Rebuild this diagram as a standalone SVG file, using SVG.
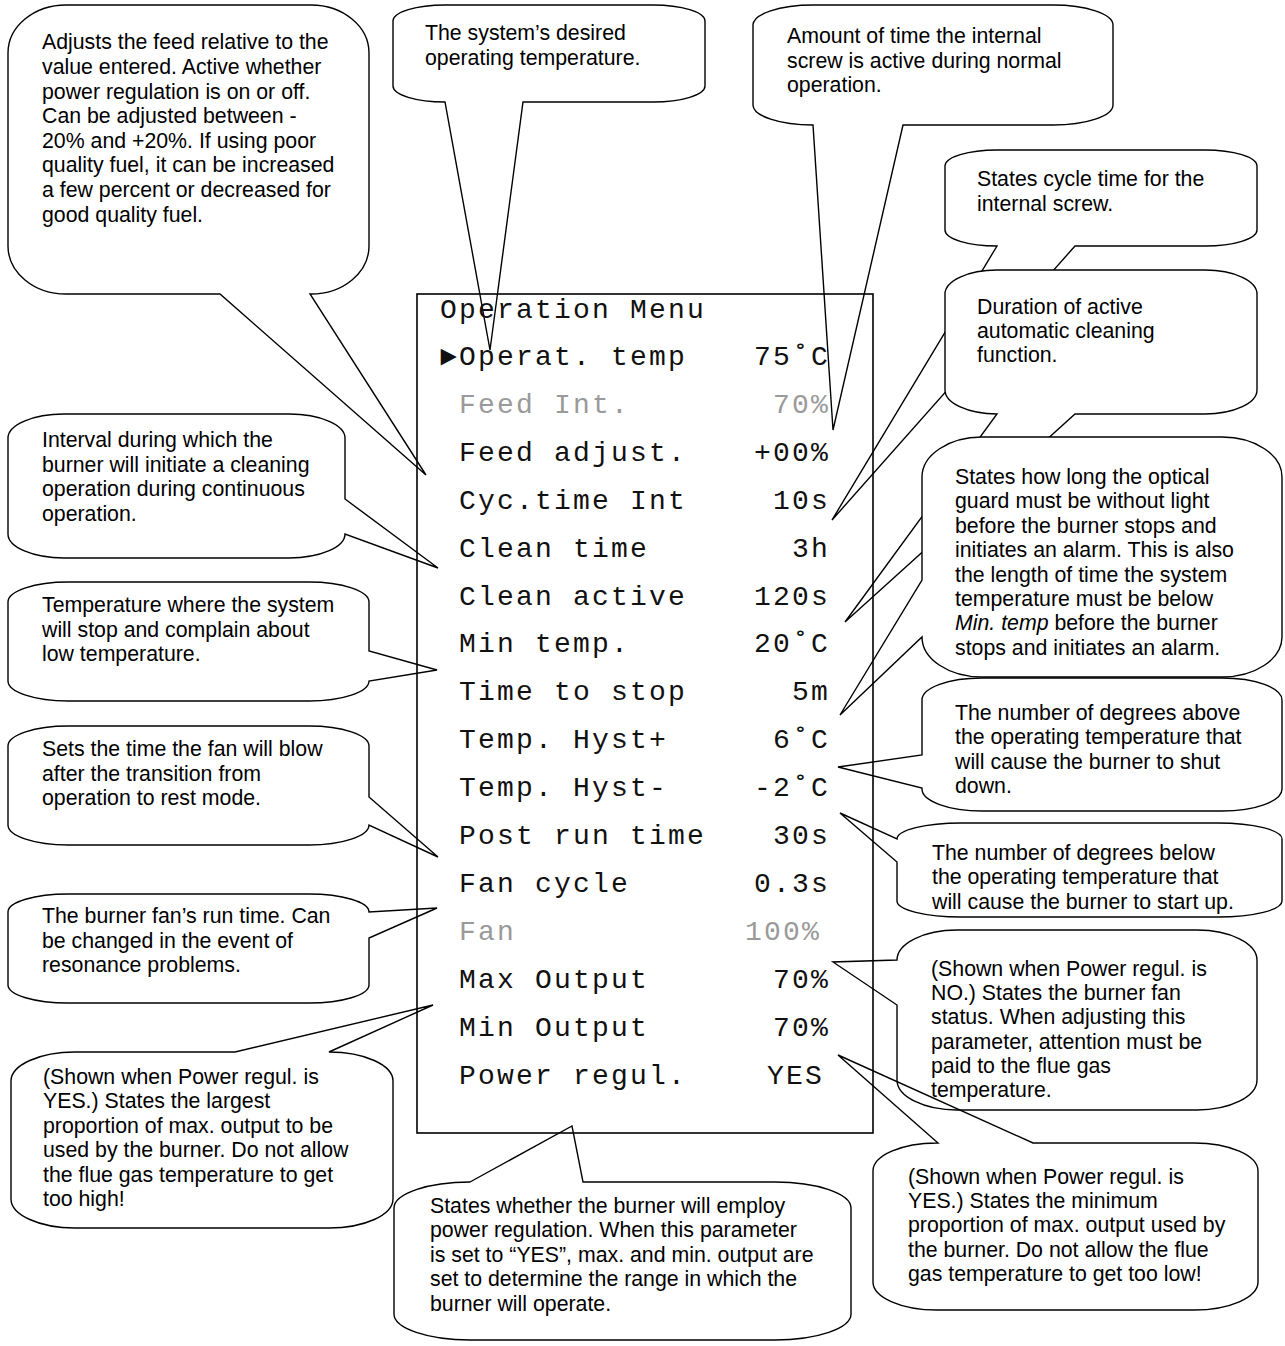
<svg xmlns="http://www.w3.org/2000/svg" width="1285" height="1346" viewBox="0 0 1285 1346">
  <style>
    .bubble { fill: #ffffff; stroke: #000000; stroke-width: 1.4; stroke-linejoin: miter; }
    .open { fill: none; }
    .note { font-family: "Liberation Sans", Arial, sans-serif; font-size: 21.3px; fill: #000000; }
    .menu { font-family: "Liberation Mono", "Courier New", monospace; font-size: 28px; letter-spacing: 2.2px; fill: #111111; }
    .dim { fill: #9a9a9a; }
    .val { text-anchor: end; }
    .frame { fill: none; stroke: #000000; stroke-width: 1.6; }
  </style>

  <!-- callout bubbles; each wedge points at one menu row -->
  <g id="callouts">
    <g id="note-feed-adjust">
      <path class="bubble" d="M 66 5 L 311 5 A 58 48 0 0 1 369 53 L 369 246 A 58 48 0 0 1 311 294 L 310 294 L 426 475 L 220 294 L 66 294 A 58 48 0 0 1 8 246 L 8 53 A 58 48 0 0 1 66 5 Z"/>
      <text class="note" x="42" y="49.3">Adjusts the feed relative to the</text>
      <text class="note" x="42" y="73.9">value entered. Active whether</text>
      <text class="note" x="42" y="98.5">power regulation is on or off.</text>
      <text class="note" x="42" y="123.1">Can be adjusted between -</text>
      <text class="note" x="42" y="147.7">20% and +20%. If using poor</text>
      <text class="note" x="42" y="172.3">quality fuel, it can be increased</text>
      <text class="note" x="42" y="196.9">a few percent or decreased for</text>
      <text class="note" x="42" y="221.5">good quality fuel.</text>
    </g>

    <g id="note-operat-temp">
      <path class="bubble" d="M 445 5 L 653 5 A 52 16 0 0 1 705 21 L 705 86 A 52 16 0 0 1 653 102 L 523 102 L 490 350 L 445 102 A 52 16 0 0 1 393 86 L 393 21 A 52 16 0 0 1 445 5 Z"/>
      <text class="note" x="425" y="40">The system’s desired</text>
      <text class="note" x="425" y="64.5">operating temperature.</text>
    </g>

    <g id="note-feed-int">
      <path class="bubble" d="M 813 5 L 1053 5 A 60 20 0 0 1 1113 25 L 1113 105 A 60 20 0 0 1 1053 125 L 903 125 L 833 430 L 813 125 A 60 20 0 0 1 753 105 L 753 25 A 60 20 0 0 1 813 5 Z"/>
      <text class="note" x="787" y="43">Amount of time the internal</text>
      <text class="note" x="787" y="67.5">screw is active during normal</text>
      <text class="note" x="787" y="92">operation.</text>
    </g>

    <g id="note-cyc-time">
      <path class="bubble" d="M 997 150 L 1205 150 A 52 16 0 0 1 1257 166 L 1257 230 A 52 16 0 0 1 1205 246 L 1075 246 L 832 520 L 997 246 A 52 16 0 0 1 945 230 L 945 166 A 52 16 0 0 1 997 150 Z"/>
      <text class="note" x="977" y="186">States cycle time for the</text>
      <text class="note" x="977" y="210.5">internal screw.</text>
    </g>

    <g id="note-clean-active">
      <path class="bubble" d="M 997 270 L 1205 270 A 52 24 0 0 1 1257 294 L 1257 390 A 52 24 0 0 1 1205 414 L 1075 414 L 845 622 L 997 414 A 52 24 0 0 1 945 390 L 945 294 A 52 24 0 0 1 997 270 Z"/>
      <text class="note" x="977" y="314">Duration of active</text>
      <text class="note" x="977" y="338">automatic cleaning</text>
      <text class="note" x="977" y="362">function.</text>
    </g>

    <g id="note-time-to-stop">
      <path class="bubble" d="M 982 437 L 1222 437 A 60 40 0 0 1 1282 477 L 1282 637 A 60 40 0 0 1 1222 677 L 982 677 A 60 40 0 0 1 922 637 L 840 715 L 922 580 L 922 477 A 60 40 0 0 1 982 437 Z"/>
      <text class="note" x="955" y="484">States how long the optical</text>
      <text class="note" x="955" y="508.4">guard must be without light</text>
      <text class="note" x="955" y="532.8">before the burner stops and</text>
      <text class="note" x="955" y="557.2">initiates an alarm. This is also</text>
      <text class="note" x="955" y="581.6">the length of time the system</text>
      <text class="note" x="955" y="606">temperature must be below</text>
      <text class="note" x="955" y="630.4"><tspan font-style="italic">Min. temp</tspan> before the burner</text>
      <text class="note" x="955" y="654.8">stops and initiates an alarm.</text>
    </g>

    <g id="note-hyst-plus">
      <path class="bubble" d="M 982 678 L 1222 678 A 60 22 0 0 1 1282 700 L 1282 789 A 60 22 0 0 1 1222 811 L 982 811 A 60 22 0 0 1 922 789 L 922 788 L 838 767 L 922 755 L 922 700 A 60 22 0 0 1 982 678 Z"/>
      <text class="note" x="955" y="720">The number of degrees above</text>
      <text class="note" x="955" y="744.4">the operating temperature that</text>
      <text class="note" x="955" y="768.8">will cause the burner to shut</text>
      <text class="note" x="955" y="793.2">down.</text>
    </g>

    <g id="note-hyst-minus">
      <path class="bubble" d="M 961 823 L 1218 823 A 64 16 0 0 1 1282 839 L 1282 901 A 64 16 0 0 1 1218 917 L 961 917 A 64 16 0 0 1 897 901 L 897 862 L 840 813 L 897 839 A 64 16 0 0 1 961 823 Z"/>
      <text class="note" x="932" y="860">The number of degrees below</text>
      <text class="note" x="932" y="884.4">the operating temperature that</text>
      <text class="note" x="932" y="908.8">will cause the burner to start up.</text>
    </g>

    <g id="note-min-output">
      <path class="bubble" d="M 937 1143 L 938 1143 L 838 1055 L 1033 1143 L 1194 1143 A 64 28 0 0 1 1258 1171 L 1258 1282 A 64 28 0 0 1 1194 1310 L 937 1310 A 64 28 0 0 1 873 1282 L 873 1171 A 64 28 0 0 1 937 1143 Z"/>
      <text class="note" x="908" y="1183.5">(Shown when Power regul. is</text>
      <text class="note" x="908" y="1207.9">YES.) States the minimum</text>
      <text class="note" x="908" y="1232.3">proportion of max. output used by</text>
      <text class="note" x="908" y="1256.7">the burner. Do not allow the flue</text>
      <text class="note" x="908" y="1281.1">gas temperature to get too low!</text>
    </g>

    <g id="note-fan">
      <path class="bubble open" d="M 957 930 L 1197 930 A 60 30 0 0 1 1257 960 L 1257 1080 A 60 30 0 0 1 1197 1110 L 957 1110 A 60 30 0 0 1 897 1080 L 897 1005 L 833 962 L 897 960 A 60 30 0 0 1 957 930 Z"/>
      <text class="note" x="931" y="976">(Shown when Power regul. is</text>
      <text class="note" x="931" y="1000.2">NO.) States the burner fan</text>
      <text class="note" x="931" y="1024.4">status. When adjusting this</text>
      <text class="note" x="931" y="1048.6">parameter, attention must be</text>
      <text class="note" x="931" y="1072.8">paid to the flue gas</text>
      <text class="note" x="931" y="1097">temperature.</text>
    </g>

    <g id="note-power-regul">
      <path class="bubble" d="M 470 1182 L 572 1126 L 583 1182 L 775 1182 A 76 26 0 0 1 851 1208 L 851 1314 A 76 26 0 0 1 775 1340 L 470 1340 A 76 26 0 0 1 394 1314 L 394 1208 A 76 26 0 0 1 470 1182 Z"/>
      <text class="note" x="430" y="1213">States whether the burner will employ</text>
      <text class="note" x="430" y="1237.4">power regulation. When this parameter</text>
      <text class="note" x="430" y="1261.8">is set to “YES”, max. and min. output are</text>
      <text class="note" x="430" y="1286.2">set to determine the range in which the</text>
      <text class="note" x="430" y="1310.6">burner will operate.</text>
    </g>

    <g id="note-max-output">
      <path class="bubble" d="M 75 1052 L 235 1052 L 433 1005 L 329 1052 A 64 29 0 0 1 393 1081 L 393 1199 A 64 29 0 0 1 329 1228 L 75 1228 A 64 29 0 0 1 11 1199 L 11 1081 A 64 29 0 0 1 75 1052 Z"/>
      <text class="note" x="43" y="1084">(Shown when Power regul. is</text>
      <text class="note" x="43" y="1108.4">YES.) States the largest</text>
      <text class="note" x="43" y="1132.8">proportion of max. output to be</text>
      <text class="note" x="43" y="1157.2">used by the burner. Do not allow</text>
      <text class="note" x="43" y="1181.6">the flue gas temperature to get</text>
      <text class="note" x="43" y="1206">too high!</text>
    </g>

    <g id="note-fan-cycle">
      <path class="bubble" d="M 68 894 L 309 894 A 60 18 0 0 1 369 912 L 437 908 L 369 938 L 369 985 A 60 18 0 0 1 309 1003 L 68 1003 A 60 18 0 0 1 8 985 L 8 912 A 60 18 0 0 1 68 894 Z"/>
      <text class="note" x="42" y="923">The burner fan’s run time. Can</text>
      <text class="note" x="42" y="947.5">be changed in the event of</text>
      <text class="note" x="42" y="972">resonance problems.</text>
    </g>

    <g id="note-post-run">
      <path class="bubble" d="M 68 726 L 309 726 A 60 20 0 0 1 369 746 L 369 797 L 438 857 L 369 825 A 60 20 0 0 1 309 845 L 68 845 A 60 20 0 0 1 8 825 L 8 746 A 60 20 0 0 1 68 726 Z"/>
      <text class="note" x="42" y="756">Sets the time the fan will blow</text>
      <text class="note" x="42" y="780.5">after the transition from</text>
      <text class="note" x="42" y="805">operation to rest mode.</text>
    </g>

    <g id="note-min-temp">
      <path class="bubble" d="M 68 582 L 309 582 A 60 20 0 0 1 369 602 L 369 651 L 437 670 L 369 681 A 60 20 0 0 1 309 701 L 68 701 A 60 20 0 0 1 8 681 L 8 602 A 60 20 0 0 1 68 582 Z"/>
      <text class="note" x="42" y="612">Temperature where the system</text>
      <text class="note" x="42" y="636.5">will stop and complain about</text>
      <text class="note" x="42" y="661">low temperature.</text>
    </g>

    <g id="note-clean-time">
      <path class="bubble" d="M 64 414 L 289 414 A 56 24 0 0 1 345 438 L 345 499 L 438 568 L 345 534 A 56 24 0 0 1 289 558 L 64 558 A 56 24 0 0 1 8 534 L 8 438 A 56 24 0 0 1 64 414 Z"/>
      <text class="note" x="42" y="447">Interval during which the</text>
      <text class="note" x="42" y="471.5">burner will initiate a cleaning</text>
      <text class="note" x="42" y="496">operation during continuous</text>
      <text class="note" x="42" y="520.5">operation.</text>
    </g>
  </g>

  <!-- the operation menu display, drawn over the wedge tips -->
  <g id="operation-menu">
    <rect class="frame" x="417" y="294" width="456" height="839"/>
    <text class="menu" x="440" y="318">Operation Menu</text>
    <text class="menu" x="440" y="365">►Operat. temp</text>
    <text class="menu val" x="830" y="365">75˚C</text>
    <text class="menu dim" x="459" y="412.9">Feed Int.</text>
    <text class="menu dim val" x="830" y="412.9">70%</text>
    <text class="menu" x="459" y="460.8">Feed adjust.</text>
    <text class="menu val" x="830" y="460.8">+00%</text>
    <text class="menu" x="459" y="508.7">Cyc.time Int</text>
    <text class="menu val" x="830" y="508.7">10s</text>
    <text class="menu" x="459" y="556.6">Clean time</text>
    <text class="menu val" x="830" y="556.6">3h</text>
    <text class="menu" x="459" y="604.5">Clean active</text>
    <text class="menu val" x="830" y="604.5">120s</text>
    <text class="menu" x="459" y="652.4">Min temp.</text>
    <text class="menu val" x="830" y="652.4">20˚C</text>
    <text class="menu" x="459" y="700.3">Time to stop</text>
    <text class="menu val" x="830" y="700.3">5m</text>
    <text class="menu" x="459" y="748.2">Temp. Hyst+</text>
    <text class="menu val" x="830" y="748.2">6˚C</text>
    <text class="menu" x="459" y="796.1">Temp. Hyst-</text>
    <text class="menu val" x="830" y="796.1">-2˚C</text>
    <text class="menu" x="459" y="844">Post run time</text>
    <text class="menu val" x="830" y="844">30s</text>
    <text class="menu" x="459" y="891.9">Fan cycle</text>
    <text class="menu val" x="830" y="891.9">0.3s</text>
    <text class="menu dim" x="459" y="939.8">Fan</text>
    <text class="menu dim val" x="821" y="939.8">100%</text>
    <text class="menu" x="459" y="987.7">Max Output</text>
    <text class="menu val" x="830" y="987.7">70%</text>
    <text class="menu" x="459" y="1035.6">Min Output</text>
    <text class="menu val" x="830" y="1035.6">70%</text>
    <text class="menu" x="459" y="1083.5">Power regul.</text>
    <text class="menu val" x="824" y="1083.5">YES</text>
  </g>
</svg>
